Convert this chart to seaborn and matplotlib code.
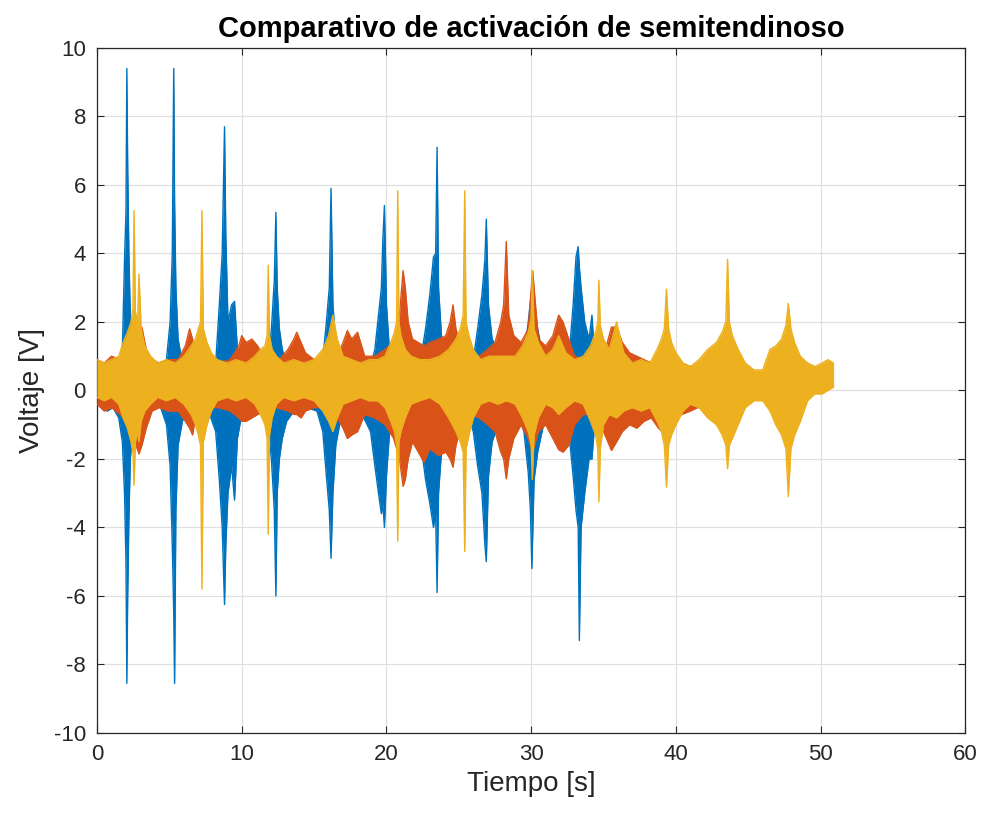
import matplotlib
matplotlib.use("Agg")
import matplotlib.pyplot as plt
import seaborn as sns

# envelope of each EMG trace: time [s], upper and lower voltage [V]
blue_t = [0.0, 0.3, 0.7, 1.1, 1.5, 1.75, 1.9, 2.0, 2.06, 2.12, 2.2, 2.3, 2.5, 2.8, 3.2,
          3.8, 4.4, 4.8, 5.05, 5.2, 5.3, 5.36, 5.45, 5.6, 5.9, 6.3,
          7.0, 7.7, 8.2, 8.45, 8.65, 8.81, 8.9, 9.05, 9.3, 9.5, 9.7, 10.0, 10.5,
          11.2, 11.8, 12.05, 12.25, 12.36, 12.45, 12.6, 12.8, 13.1, 13.6, 14.5,
          15.2, 15.6, 15.85, 16.05, 16.17, 16.3, 16.5, 16.8, 17.3, 18.2,
          18.9, 19.2, 19.45, 19.65, 19.75, 19.86, 20.0, 20.2, 20.5, 21.2,
          22.0, 22.4, 22.7, 23.0, 23.25, 23.4, 23.5, 23.6, 23.8, 24.1, 24.6,
          25.5, 26.0, 26.3, 26.6, 26.8, 26.9, 27.05, 27.3, 27.7, 28.3,
          29.0, 29.5, 29.8, 29.95, 30.05, 30.2, 30.45, 30.8, 31.3,
          32.0, 32.6, 32.9, 33.1, 33.25, 33.33, 33.45, 33.7, 34.0, 34.2, 34.4, 34.6]
blue_hi = [0.5, 0.3, 0.5, 0.4, 0.7, 1.2, 3.8, 5.2, 9.4, 6.5, 4.0, 2.2, 1.0, 0.6, 0.4,
           0.4, 0.5, 0.9, 2.0, 4.0, 9.4, 5.5, 3.0, 1.5, 0.8, 0.4,
           0.4, 0.5, 0.8, 2.5, 4.0, 7.7, 4.5, 2.0, 2.5, 2.6, 1.2, 0.6, 0.4,
           0.4, 0.8, 1.8, 3.2, 5.2, 3.0, 1.8, 1.2, 0.8, 0.5, 0.4,
           0.5, 0.9, 2.0, 3.0, 5.9, 2.5, 1.4, 0.8, 0.5, 0.5,
           0.7, 1.2, 2.2, 3.0, 4.4, 5.4, 2.5, 1.2, 0.6, 0.5,
           0.6, 1.0, 1.8, 2.8, 3.9, 4.0, 7.1, 3.0, 1.6, 0.9, 0.5,
           0.5, 0.9, 1.8, 2.8, 3.8, 5.0, 2.5, 1.5, 1.2, 0.6,
           0.6, 1.0, 2.0, 2.6, 3.0, 2.5, 1.8, 1.0, 0.5,
           0.5, 0.9, 2.5, 3.9, 4.2, 3.6, 3.0, 2.0, 1.5, 2.2, 0.9, 0.4]
blue_lo = [-0.3, -0.5, -0.6, -0.5, -0.8, -1.5, -3.0, -5.0, -8.55, -6.0, -3.8, -2.0, -1.0, -0.7, -0.5,
           -0.4, -0.5, -1.0, -2.2, -4.5, -6.5, -8.55, -3.5, -1.6, -0.9, -0.5,
           -0.4, -0.6, -1.2, -2.6, -4.0, -6.25, -4.5, -3.0, -2.2, -3.2, -1.4, -0.7, -0.5,
           -0.5, -1.0, -2.0, -3.5, -6.0, -3.0, -2.0, -1.4, -0.9, -0.6, -0.5,
           -0.6, -1.2, -2.5, -3.5, -4.9, -3.0, -1.6, -0.9, -0.6, -0.6,
           -1.2, -2.2, -3.0, -3.6, -3.3, -4.0, -2.5, -1.3, -0.8, -0.6,
           -0.8, -1.6, -2.6, -3.3, -4.0, -3.6, -5.9, -3.0, -1.8, -1.0, -0.5,
           -0.6, -1.2, -2.2, -3.0, -4.5, -5.0, -2.5, -1.5, -1.0, -0.6,
           -0.6, -1.2, -2.4, -3.5, -5.2, -2.6, -1.8, -1.1, -0.6,
           -0.6, -1.2, -2.5, -3.5, -4.0, -7.3, -4.0, -3.0, -2.0, -2.0, -0.9, -0.4]

orange_t = [0.0, 0.5, 1.0, 1.6, 2.2, 2.6, 2.9, 3.1, 3.4, 3.8, 4.3, 4.9, 5.6, 6.1, 6.4, 6.6, 6.8, 7.2, 7.8,
            8.4, 9.2, 9.8, 10.0, 10.3, 10.7, 11.1, 11.6, 12.4, 13.2, 13.6, 13.8, 14.1, 14.4, 15.0,
            15.8, 16.6, 17.0, 17.3, 17.6, 18.0, 18.5,
            19.2, 19.9, 20.5, 20.9, 21.15, 21.3, 21.5, 21.8, 22.2, 22.6, 23.0, 23.6, 24.1, 24.4,
            24.6, 24.8, 25.2, 25.8, 26.4, 27.0,
            27.5, 27.9, 28.1, 28.28, 28.45, 28.8, 29.3, 29.8, 30.1, 30.5, 31.0, 31.5, 31.9, 32.2,
            32.6, 33.0, 33.6, 34.2,
            34.8, 35.2, 35.55, 35.9, 36.3, 36.8, 37.3, 37.8, 38.3, 38.8, 39.3, 39.8, 40.4, 41.0,
            41.5, 42.0, 42.3]
orange_hi = [0.9, 0.8, 1.0, 0.9, 1.1, 1.3, 1.6, 1.85, 1.2, 0.9, 0.8, 0.9, 0.9, 1.3, 1.8, 1.5, 1.0, 0.9, 0.8,
             0.8, 0.9, 1.3, 1.6, 1.4, 1.5, 1.3, 0.9, 0.8, 1.2, 1.5, 1.7, 1.4, 1.1, 0.9,
             0.8, 1.0, 1.4, 1.75, 1.5, 1.7, 1.0,
             1.0, 1.2, 1.4, 2.2, 3.5, 3.0, 2.0, 1.5, 1.4, 1.3, 1.4, 1.5, 1.6, 2.0,
             2.5, 1.8, 1.2, 0.9, 1.0, 1.2,
             1.4, 2.0, 2.5, 4.35, 2.2, 1.6, 1.4, 1.8, 3.5, 1.5, 1.3, 1.6, 2.2, 2.0,
             1.5, 1.0, 0.9, 0.9,
             1.0, 1.3, 1.85, 1.85, 1.4, 1.1, 1.0, 0.9, 0.8, 0.9, 1.0, 0.9, 0.8, 0.7,
             0.7, 0.6, 0.5]
orange_lo = [-0.4, -0.6, -0.5, -0.7, -1.0, -1.5, -1.85, -1.6, -1.1, -0.6, -0.5, -0.6, -0.6, -0.9, -1.1, -1.3, -0.8, -0.6, -0.5,
             -0.5, -0.6, -0.8, -0.9, -0.9, -0.8, -0.7, -0.6, -0.5, -0.6, -0.7, -0.7, -0.8, -0.6, -0.5,
             -0.5, -0.8, -1.1, -1.4, -1.3, -1.2, -0.7,
             -0.8, -1.0, -1.4, -2.0, -2.8, -2.6, -2.0, -1.5, -1.8, -2.1, -1.7, -1.9, -1.8, -2.0,
             -2.24, -1.6, -1.0, -0.7, -0.8, -1.0,
             -1.2, -1.8, -2.0, -2.58, -2.0, -1.4, -1.0, -1.4, -1.8, -1.2, -1.0, -1.4, -1.73, -1.8,
             -1.6, -1.0, -0.7, -0.7,
             -1.0, -1.4, -1.75, -1.5, -1.2, -1.0, -1.1, -0.9, -0.8, -1.1, -1.3, -0.9, -0.7, -0.6,
             -0.5, -0.5, -0.3]

yellow_t = [0.0, 0.5, 1.0, 1.5, 1.8, 2.1, 2.35, 2.48, 2.56, 2.65, 2.8, 2.9, 3.05, 3.3, 3.7,
            4.2, 4.8, 5.4, 6.0, 6.5, 6.8, 7.0, 7.15, 7.25, 7.35, 7.6, 7.9, 8.3, 9.0,
            9.6, 10.3, 10.9, 11.3, 11.6, 11.75, 11.83, 11.92, 12.1, 12.4, 12.9, 13.6, 14.3,
            15.0, 15.6, 16.0, 16.3, 16.6, 17.0, 17.6, 18.2, 18.8,
            19.4, 19.9, 20.3, 20.55, 20.7, 20.78, 20.86, 21.0, 21.3, 21.7, 22.3, 23.0, 23.7,
            24.3, 24.8, 25.1, 25.3, 25.41, 25.5, 25.7, 26.0, 26.5, 27.1, 27.7,
            28.3, 28.9, 29.4, 29.8, 30.0, 30.08, 30.2, 30.5, 31.0, 31.5, 31.9, 32.4, 33.0,
            33.6, 34.1, 34.45, 34.6, 34.68, 34.78, 35.0, 35.4, 35.9, 36.4, 37.0, 37.6, 38.2,
            38.7, 39.0, 39.2, 39.35, 39.5, 39.7, 40.0, 40.5, 41.0, 41.6, 42.2, 42.8, 43.2,
            43.45, 43.57, 43.7, 43.9, 44.3, 44.8, 45.4, 46.0, 46.5, 46.9, 47.3, 47.6, 47.77,
            47.95, 48.2, 48.6, 49.1, 49.6, 50.1, 50.5, 50.9]
yellow_hi = [0.9, 0.8, 0.9, 1.0, 1.4, 1.7, 2.0, 2.4, 5.25, 2.3, 2.0, 3.4, 1.8, 1.3, 1.0,
             0.8, 0.9, 0.8, 1.0, 1.3, 1.5, 1.8, 2.0, 5.25, 1.8, 1.4, 1.1, 0.9, 0.8,
             0.9, 0.8, 1.0, 1.2, 1.3, 1.6, 3.66, 1.6, 1.2, 1.0, 0.8, 0.9, 0.8,
             0.9, 1.2, 1.6, 2.2, 1.5, 1.0, 0.9, 0.8, 0.9,
             0.9, 1.0, 1.4, 1.7, 2.0, 5.83, 2.0, 1.6, 1.2, 1.0, 0.9, 0.9, 1.0,
             1.2, 1.5, 1.8, 2.2, 5.83, 2.0, 1.6, 1.2, 0.9, 1.0, 1.0,
             1.0, 1.0, 1.3, 1.7, 2.1, 3.5, 1.8, 1.4, 1.0, 1.2, 1.6, 1.1, 0.9,
             1.0, 1.3, 1.7, 2.0, 3.22, 1.9, 1.5, 1.2, 2.0, 1.1, 0.8, 0.9, 0.8,
             1.2, 1.5, 1.8, 2.96, 1.8, 1.4, 1.1, 0.8, 0.7, 0.9, 1.2, 1.4, 1.7,
             2.0, 3.83, 2.0, 1.6, 1.2, 0.8, 0.6, 0.6, 1.2, 1.3, 1.5, 1.9, 2.54,
             1.8, 1.4, 1.0, 0.8, 0.7, 0.8, 0.9, 0.8]
yellow_lo = [-0.2, -0.3, -0.2, -0.4, -0.8, -1.1, -1.5, -1.8, -2.77, -1.5, -1.2, -1.5, -0.9, -0.6, -0.4,
             -0.2, -0.3, -0.2, -0.4, -0.7, -1.0, -1.3, -1.6, -5.8, -1.5, -1.0, -0.6, -0.3, -0.2,
             -0.3, -0.2, -0.4, -0.7, -1.0, -1.4, -4.2, -1.3, -0.8, -0.4, -0.2, -0.3, -0.2,
             -0.3, -0.6, -0.9, -1.2, -0.8, -0.4, -0.3, -0.2, -0.3,
             -0.3, -0.5, -0.9, -1.2, -1.6, -4.4, -1.5, -1.2, -0.8, -0.4, -0.3, -0.2, -0.4,
             -0.8, -1.2, -1.5, -1.8, -4.7, -1.7, -1.3, -0.8, -0.4, -0.3, -0.4,
             -0.3, -0.4, -0.8, -1.2, -1.6, -2.6, -1.3, -0.8, -0.4, -0.5, -0.7, -0.5, -0.3,
             -0.4, -0.9, -1.3, -1.7, -3.25, -1.7, -1.0, -0.7, -0.8, -0.6, -0.5, -0.6, -0.5,
             -0.9, -1.2, -1.6, -2.82, -1.6, -1.3, -1.0, -0.6, -0.4, -0.5, -0.8, -1.0, -1.3,
             -1.6, -2.28, -1.6, -1.4, -1.0, -0.5, -0.3, -0.3, -0.6, -1.0, -1.3, -1.7, -3.1,
             -1.7, -1.3, -0.9, -0.3, -0.1, -0.1, 0.0, 0.1]

series = [
    (blue_t, blue_hi, blue_lo, "#0072BD"),
    (orange_t, orange_hi, orange_lo, "#D95319"),
    (yellow_t, yellow_hi, yellow_lo, "#EDB120"),
]

sns.set_style("ticks")
plt.rcParams["font.family"] = ["Liberation Sans", "DejaVu Sans"]
plt.rcParams["axes.unicode_minus"] = False

fig = plt.figure(figsize=(9.85, 8.23), dpi=100)
ax = fig.add_axes([0.0985, 0.1094, 0.8815, 0.8323])

for z, (t, hi, lo, color) in enumerate(series):
    assert len(t) == len(hi) == len(lo)
    ax.fill_between(t, lo, hi, color=color, linewidth=0, zorder=2 + z)
    sns.lineplot(x=t, y=hi, color=color, linewidth=1.0, estimator=None, sort=False, ax=ax, zorder=2 + z)
    sns.lineplot(x=t, y=lo, color=color, linewidth=1.0, estimator=None, sort=False, ax=ax, zorder=2 + z)

ax.set_xlim(0, 60)
ax.set_ylim(-10, 10)
ax.set_xticks(range(0, 61, 10))
ax.set_yticks(range(-10, 11, 2))
ax.grid(True, color="#e0e0e0", linewidth=0.9, zorder=0)
ax.set_axisbelow(True)
ax.tick_params(direction="in", top=True, right=True, length=5, width=0.8,
               labelsize=16, colors="#262626", pad=8)
for sp in ax.spines.values():
    sp.set_color("#262626")
    sp.set_linewidth(0.9)

ax.set_xlabel("Tiempo [s]", fontsize=20, color="#262626", labelpad=4)
ax.set_ylabel("Voltaje [V]", fontsize=20, color="#262626", labelpad=6)
ax.set_title("Comparativo de activación de semitendinoso", fontsize=21, fontweight="bold",
             color="black", pad=8)

fig.savefig("out.png", dpi=100)
